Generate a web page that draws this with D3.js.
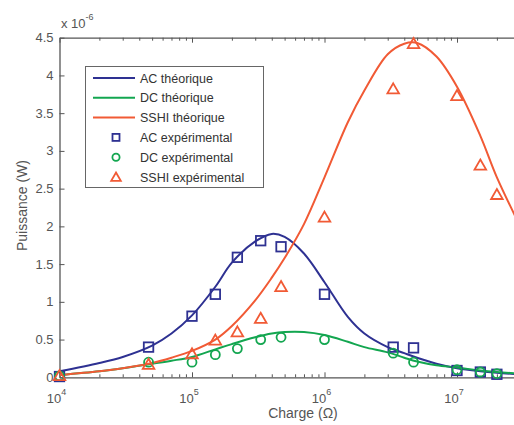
<!DOCTYPE html>
<html><head><meta charset="utf-8">
<script src="https://cdn.jsdelivr.net/npm/d3@7"></script>
<style>
body{margin:0;background:#fff;}
svg{display:block;font-family:"Liberation Sans",Arial,sans-serif;}
</style></head>
<body><svg id="c" width="514" height="425"></svg>
<script>
// ---- data ----
const expR = [1e4, 4.7e4, 1e5, 1.5e5, 2.2e5, 3.3e5, 4.7e5, 1e6, 3.3e6, 4.7e6, 1e7, 1.5e7, 2e7];
const acExp   = [0.01, 0.40, 0.81, 1.10, 1.59, 1.81, 1.73, 1.10, 0.40, 0.39, 0.09, 0.07, 0.04];
const dcExp   = [0.02, 0.20, 0.20, 0.30, 0.38, 0.50, 0.53, 0.50, 0.32, 0.20, 0.10, 0.07, 0.05];
const sshiExp = [0.02, 0.17, 0.31, 0.49, 0.60, 0.78, 1.20, 2.12, 3.82, 4.42, 3.73, 2.81, 2.42];

const thR = [1e4, 2e4, 3e4, 5e4, 7e4, 1e5, 1.5e5, 2e5, 3e5, 4e5, 5e5, 7e5, 1e6, 1.5e6, 2e6, 3e6, 4e6, 5e6, 7e6, 1e7, 1.5e7, 2e7, 3e7];
const acTh   = [0.08, 0.19, 0.27, 0.42, 0.58, 0.82, 1.20, 1.52, 1.80, 1.90, 1.86, 1.64, 1.26, 0.80, 0.58, 0.40, 0.32, 0.26, 0.18, 0.12, 0.08, 0.06, 0.04];
const dcTh   = [0.03, 0.08, 0.12, 0.18, 0.22, 0.27, 0.37, 0.44, 0.53, 0.58, 0.60, 0.60, 0.56, 0.47, 0.40, 0.33, 0.26, 0.21, 0.16, 0.13, 0.09, 0.07, 0.05];
const sshiTh = [0.03, 0.08, 0.12, 0.19, 0.26, 0.35, 0.50, 0.68, 1.02, 1.32, 1.58, 2.03, 2.65, 3.38, 3.80, 4.28, 4.42, 4.43, 4.25, 3.85, 3.20, 2.65, 2.00];

const yTicks = [0, 0.5, 1, 1.5, 2, 2.5, 3, 3.5, 4, 4.5];
const yTickLabels = ["0", "0.5", "1", "1.5", "2", "2.5", "3", "3.5", "4", "4.5"];
const xMajor = [1e4, 1e5, 1e6, 1e7];
const xMajorExp = ["4", "5", "6", "7"];
const legendLabels = ["AC théorique", "DC théorique", "SSHI théorique", "AC expérimental", "DC expérimental", "SSHI expérimental"];

const colAC = "#2e3192", colDC = "#13a650", colSS = "#f15a35";

// ---- layout ----
const svg = d3.select("#c");
const L = 59.5, T = 37.7, B = 377.3;
const decade = 132.5;
const xMax = 3e7;
const R = L + decade * Math.log10(xMax / 1e4);
const x = d3.scaleLog().domain([1e4, xMax]).range([L, R]);
const y = d3.scaleLinear().domain([0, 4.5]).range([B, T]);
const axisCol = "#555";
const txtCol = "#555";

svg.append("defs").append("clipPath").attr("id", "clip")
  .append("rect").attr("x", L).attr("y", T).attr("width", R - L).attr("height", B - T);

// minor ticks
const minor = [];
for (let d = 1e4; d < xMax; d *= 10) for (let k = 2; k <= 9; k++) if (k * d <= xMax) minor.push(k * d);

function styleAxis(g) {
  g.selectAll("path").attr("stroke", axisCol).attr("stroke-width", 1.3);
  g.selectAll("line").attr("stroke", axisCol).attr("stroke-width", 1);
}
// bottom
svg.append("g").attr("transform", `translate(0,${B})`)
  .call(d3.axisBottom(x).tickValues(xMajor).tickSize(-5).tickSizeOuter(0).tickFormat(""))
  .call(styleAxis);
svg.append("g").attr("transform", `translate(0,${B})`)
  .call(d3.axisBottom(x).tickValues(minor).tickSize(-3).tickSizeOuter(0).tickFormat(""))
  .call(styleAxis).select("path").remove();
// top
svg.append("g").attr("transform", `translate(0,${T})`)
  .call(d3.axisTop(x).tickValues(xMajor).tickSize(-5).tickSizeOuter(0).tickFormat(""))
  .call(styleAxis);
svg.append("g").attr("transform", `translate(0,${T})`)
  .call(d3.axisTop(x).tickValues(minor).tickSize(-3).tickSizeOuter(0).tickFormat(""))
  .call(styleAxis).select("path").remove();
// left
svg.append("g").attr("transform", `translate(${L},0)`)
  .call(d3.axisLeft(y).tickValues(yTicks).tickSize(-5).tickSizeOuter(0).tickFormat(""))
  .call(styleAxis);
// right (mostly off-canvas)
svg.append("g").attr("transform", `translate(${R},0)`)
  .call(d3.axisRight(y).tickValues(yTicks).tickSize(-5).tickSizeOuter(0).tickFormat(""))
  .call(styleAxis);

// y tick labels
svg.append("g").selectAll("text").data(yTicks).join("text")
  .attr("x", L - 6).attr("y", d => y(d) + 4.5)
  .attr("text-anchor", "end").attr("font-size", 13).attr("fill", txtCol)
  .text((d, i) => yTickLabels[i]);

// x tick labels
const xl = svg.append("g").selectAll("text").data(xMajor).join("text")
  .attr("x", d => x(d) - 3).attr("y", 403)
  .attr("text-anchor", "middle").attr("font-size", 13).attr("fill", txtCol);
xl.append("tspan").text("10");
xl.append("tspan").attr("dy", -8).attr("font-size", 9).text((d, i) => xMajorExp[i]);

// multiplier
const mt = svg.append("text").attr("x", 61).attr("y", 28).attr("font-size", 13).attr("fill", txtCol);
mt.append("tspan").text("x 10");
mt.append("tspan").attr("dy", -8).attr("font-size", 9).text("-6");

// axis titles
svg.append("text").attr("transform", `translate(27,${(T + B) / 2 - 2}) rotate(-90)`)
  .attr("text-anchor", "middle").attr("font-size", 14).attr("fill", txtCol).text("Puissance (W)");
svg.append("text").attr("x", 303).attr("y", 418)
  .attr("text-anchor", "middle").attr("font-size", 14).attr("fill", txtCol).text("Charge (\u03A9)");

// theory curves
const line = d3.line().x(d => x(d[0])).y(d => y(d[1])).curve(d3.curveCatmullRom.alpha(0.5));
const curves = svg.append("g").attr("clip-path", "url(#clip)");
[[acTh, colAC], [dcTh, colDC], [sshiTh, colSS]].forEach(([vals, c]) => {
  curves.append("path").datum(thR.map((r, i) => [r, vals[i]]))
    .attr("d", line).attr("fill", "none").attr("stroke", c).attr("stroke-width", 2);
});

// markers
const sq = 9.5, cr = 4.5;
const tri = d3.symbol().type(d3.symbolTriangle).size(58);
svg.append("g").selectAll("rect").data(expR).join("rect")
  .attr("x", (d) => x(d) - sq / 2).attr("y", (d, i) => y(acExp[i]) - sq / 2)
  .attr("width", sq).attr("height", sq).attr("fill", "none").attr("stroke", colAC).attr("stroke-width", 1.8);
svg.append("g").selectAll("circle").data(expR).join("circle")
  .attr("cx", d => x(d)).attr("cy", (d, i) => y(dcExp[i])).attr("r", cr)
  .attr("fill", "none").attr("stroke", colDC).attr("stroke-width", 1.8);
svg.append("g").selectAll("path").data(expR).join("path")
  .attr("transform", (d, i) => `translate(${x(d)},${y(sshiExp[i]) + 1})`)
  .attr("d", tri).attr("fill", "none").attr("stroke", colSS).attr("stroke-width", 1.8);

// legend
const lg = svg.append("g");
lg.append("rect").attr("x", 85.5).attr("y", 66.5).attr("width", 178).attr("height", 121)
  .attr("fill", "#fff").attr("stroke", "#666").attr("stroke-width", 1);
const rowY = i => 78 + i * 19.8;
const legCols = [colAC, colDC, colSS, colAC, colDC, colSS];
legendLabels.forEach((lab, i) => {
  const yy = rowY(i);
  if (i < 3) {
    lg.append("line").attr("x1", 93).attr("x2", 135).attr("y1", yy).attr("y2", yy)
      .attr("stroke", legCols[i]).attr("stroke-width", 2);
  } else if (i === 3) {
    lg.append("rect").attr("x", 116 - 3.5).attr("y", yy - 3.5).attr("width", 7).attr("height", 7)
      .attr("fill", "none").attr("stroke", legCols[i]).attr("stroke-width", 1.8);
  } else if (i === 4) {
    lg.append("circle").attr("cx", 116).attr("cy", yy).attr("r", 3.6)
      .attr("fill", "none").attr("stroke", legCols[i]).attr("stroke-width", 1.8);
  } else {
    lg.append("path").attr("transform", `translate(116,${yy + 1})`)
      .attr("d", d3.symbol().type(d3.symbolTriangle).size(40))
      .attr("fill", "none").attr("stroke", legCols[i]).attr("stroke-width", 1.8);
  }
  lg.append("text").attr("x", 140).attr("y", yy + 4.5).attr("font-size", 12.5).attr("fill", "#333").text(lab);
});
</script></body></html>
